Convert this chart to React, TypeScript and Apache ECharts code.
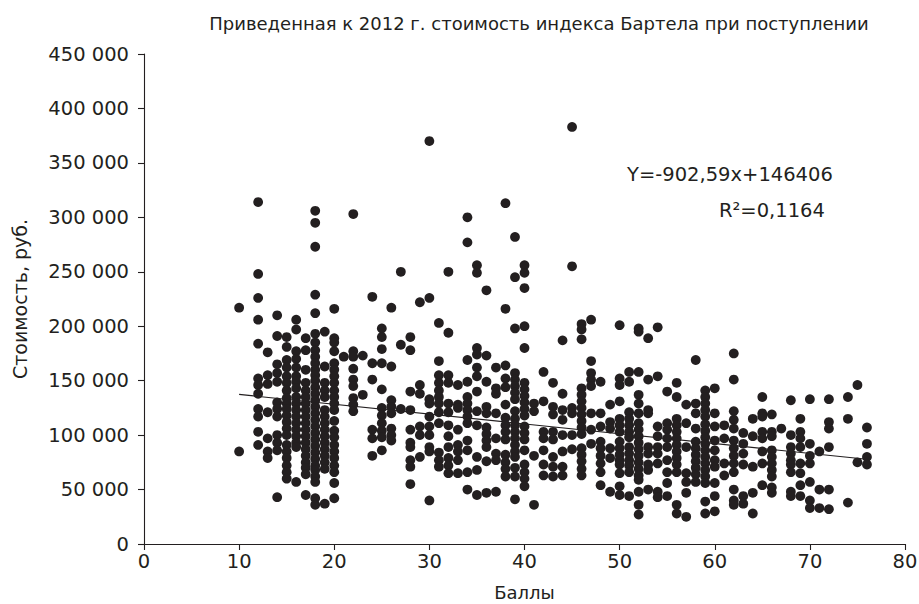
import React, { useEffect, useRef } from "react";
import * as echarts from "echarts";

const titleText = "Приведенная к 2012 г. стоимость индекса Бартела при поступлении";
const xAxisName = "Баллы";
const yAxisName = "Стоимость, руб.";
const equationText = "Y=-902,59x+146406";
const r2Text = "R²=0,1164";

const trendSlope = -902.59;
const trendIntercept = 146406;
const trendRange = [10, 76];

// Scores (x) and the costs, in thousands of roubles
const scores = [
  10, 12, 13, 14, 15, 16, 17, 18, 19, 20,
  21, 22, 23, 24, 25, 26, 27, 28, 29, 30,
  31, 32, 33, 34, 35, 36, 37, 38, 39, 40,
  41, 42, 43, 44, 45, 46, 47, 48, 49, 50,
  51, 52, 53, 54, 55, 56, 57, 58, 59, 60,
  61, 62, 63, 64, 65, 66, 67, 68, 69, 70,
  71, 72, 74, 75, 76,
];

const costsK = [
  [217, 85],
  [314, 248, 226, 206, 184, 152, 146, 138, 124, 117, 103, 91],
  [176, 155, 147, 121, 97, 85, 79],
  [210, 191, 165, 157, 149, 130, 124, 117, 100, 93, 86, 43],
  [190, 181, 169, 162, 154, 148, 141, 134, 129, 124, 118, 112, 106, 100, 91, 85, 79, 72, 66, 60],
  [206, 197, 177, 170, 162, 154, 149, 143, 135, 129, 123, 117, 111, 105, 99, 93, 89, 57],
  [189, 178, 160, 148, 141, 135, 129, 123, 117, 111, 105, 99, 93, 87, 81, 75, 70, 64, 45],
  [306, 295, 273, 229, 212, 193, 185, 178, 172, 166, 160, 155, 150, 144, 138, 132, 126, 120, 114, 108, 102, 96, 90, 84, 78, 72, 68, 62, 57, 42, 36],
  [195, 163, 148, 141, 135, 123, 117, 111, 105, 99, 93, 87, 81, 75, 69, 37],
  [216, 189, 185, 177, 166, 160, 154, 148, 141, 135, 129, 123, 113, 104, 98, 91, 85, 79, 72, 66, 56, 42],
  [172],
  [303, 177, 172, 161, 151, 145, 134, 128, 122],
  [173, 137],
  [227, 166, 151, 105, 97, 81],
  [198, 190, 179, 166, 142, 125, 118, 111, 104, 98, 86],
  [217, 163, 132, 126, 120, 106, 100, 95],
  [250, 183, 124],
  [190, 178, 140, 123, 105, 93, 89, 77, 71, 55],
  [222, 146, 138, 108, 100, 80],
  [370, 226, 133, 129, 117, 108, 100, 89, 85, 40],
  [203, 168, 155, 148, 141, 135, 129, 121, 111, 84, 77, 71],
  [250, 194, 155, 148, 129, 121, 109, 99, 89, 79, 72, 65],
  [146, 128, 125, 105, 91, 85, 77, 65],
  [300, 277, 169, 149, 135, 129, 123, 117, 111, 95, 86, 66, 50],
  [256, 249, 180, 174, 162, 154, 140, 122, 109, 80, 68, 45],
  [233, 173, 149, 126, 120, 107, 101, 95, 89, 76, 47],
  [162, 143, 138, 120, 97, 83, 77, 48],
  [313, 216, 164, 152, 144, 128, 116, 109, 103, 96, 82, 75, 69, 62],
  [282, 245, 198, 157, 151, 145, 139, 133, 122, 115, 109, 103, 97, 91, 85, 80, 70, 62, 41],
  [256, 249, 235, 200, 180, 148, 142, 136, 130, 124, 118, 108, 102, 96, 86, 73, 66, 60, 53],
  [129, 122, 81, 36],
  [158, 131, 103, 97, 86, 73, 63],
  [148, 126, 119, 103, 96, 80, 71, 62],
  [187, 138, 123, 114, 100, 85, 71, 63],
  [383, 255, 125, 120, 100, 87],
  [202, 197, 188, 143, 137, 131, 125, 119, 113, 107, 101, 88, 82, 76, 69, 63],
  [206, 168, 157, 151, 145, 120, 105, 92],
  [149, 120, 108, 94, 88, 81, 74, 66, 54],
  [128, 112, 106, 88, 79, 48],
  [201, 152, 146, 131, 115, 109, 103, 94, 88, 82, 77, 73, 65, 53, 45],
  [158, 149, 121, 115, 109, 103, 98, 89, 83, 77, 72, 66, 44],
  [198, 195, 158, 137, 129, 120, 111, 105, 99, 93, 87, 81, 75, 69, 63, 59, 48, 36, 27],
  [189, 151, 123, 120, 89, 83, 73, 68, 50],
  [199, 154, 108, 99, 89, 83, 74, 48, 43],
  [140, 111, 105, 97, 89, 77, 66, 56, 44],
  [148, 135, 115, 109, 103, 97, 91, 85, 79, 73, 66, 36, 28],
  [128, 111, 89, 65, 57, 47, 25],
  [169, 129, 120, 106, 94, 88, 82, 76, 70, 64, 57],
  [141, 135, 129, 123, 117, 110, 104, 98, 92, 86, 80, 74, 68, 62, 56, 39, 28],
  [143, 120, 108, 95, 86, 77, 71, 56, 44, 30],
  [109, 97, 74, 63],
  [175, 151, 122, 114, 106, 95, 88, 81, 74, 66, 50, 40, 36],
  [102, 92, 83, 73, 44, 37],
  [115, 99, 71, 47, 28],
  [135, 120, 117, 103, 97, 85, 74, 54],
  [119, 103, 99, 86, 80, 74, 68, 62, 52, 47],
  [106],
  [132, 100, 89, 83, 77, 73, 66, 48, 44],
  [115, 103, 97, 89, 74, 65, 54, 44],
  [133, 92, 81, 74, 57, 40, 33],
  [85, 50, 33],
  [133, 112, 106, 89, 50, 32],
  [135, 115, 38],
  [146, 75],
  [107, 92, 80, 73],
];

const xTicks = { min: 0, max: 80, interval: 10 };
const yTicks = { min: 0, max: 450000, interval: 50000 };

const INK = "#231f20";
const FONT = "DejaVu Sans";

function fmtThousands(v: number): string {
  return String(v).replace(/\B(?=(\d{3})+(?!\d))/g, " ");
}

export default function App() {
  const ref = useRef<HTMLDivElement>(null);

  useEffect(() => {
    if (!ref.current) return;
    const chart = echarts.init(ref.current, undefined, { renderer: "svg" });

    const points: number[][] = [];
    scores.forEach((x, i) => {
      (costsK[i] || []).forEach((v) => points.push([x, v * 1000]));
    });
    const trend = trendRange.map((x) => [x, trendSlope * x + trendIntercept]);

    chart.setOption({
      animation: false,
      backgroundColor: "#ffffff",
      textStyle: { fontFamily: FONT, color: INK },
      title: {
        text: titleText,
        left: 534,
        top: 9,
        textAlign: "center",
        textStyle: { fontFamily: FONT, fontSize: 18, fontWeight: "normal", color: INK },
      },
      grid: {
        left: 144,
        right: 14,
        top: 54,
        bottom: 60,
        containLabel: false,
        outerBoundsMode: "none",
      },
      xAxis: {
        type: "value",
        min: xTicks.min,
        max: xTicks.max,
        interval: xTicks.interval,
        name: xAxisName,
        nameLocation: "middle",
        nameGap: 39,
        nameTextStyle: { fontFamily: FONT, fontSize: 18, color: INK },
        axisLine: { show: true, onZero: false, lineStyle: { color: INK, width: 1.1 } },
        axisTick: { show: true, length: 6, inside: false, lineStyle: { color: INK, width: 1.1 } },
        axisLabel: { fontFamily: FONT, fontSize: 19.5, color: INK, margin: 7 },
        splitLine: { show: false },
      },
      yAxis: {
        type: "value",
        min: yTicks.min,
        max: yTicks.max,
        interval: yTicks.interval,
        name: yAxisName,
        nameLocation: "middle",
        nameGap: 115,
        nameRotate: 90,
        nameTextStyle: { fontFamily: FONT, fontSize: 19, color: INK },
        axisLine: { show: true, onZero: false, lineStyle: { color: INK, width: 1.1 } },
        axisTick: { show: true, length: 6, inside: false, lineStyle: { color: INK, width: 1.1 } },
        axisLabel: {
          fontFamily: FONT,
          fontSize: 19.5,
          color: INK,
          margin: 15,
          formatter: (v: number) => fmtThousands(v),
        },
        splitLine: { show: false },
      },
      graphic: [
        {
          type: "text",
          left: 627,
          top: 164,
          style: { text: equationText, font: `19.5px "${FONT}"`, fill: INK },
        },
        {
          type: "text",
          left: 719,
          top: 200,
          style: { text: r2Text, font: `19.5px "${FONT}"`, fill: INK },
        },
      ],
      series: [
        {
          type: "line",
          data: trend,
          symbol: "none",
          lineStyle: { color: INK, width: 1.1 },
          z: 1,
        },
        {
          type: "scatter",
          data: points,
          symbol: "circle",
          symbolSize: 9.8,
          itemStyle: { color: INK, opacity: 1 },
          z: 2,
        },
      ],
    });

    return () => chart.dispose();
  }, []);

  return (
    <div
      ref={ref}
      style={{ position: "absolute", left: 0, top: 0, width: 919, height: 604, background: "#fff" }}
    />
  );
}
